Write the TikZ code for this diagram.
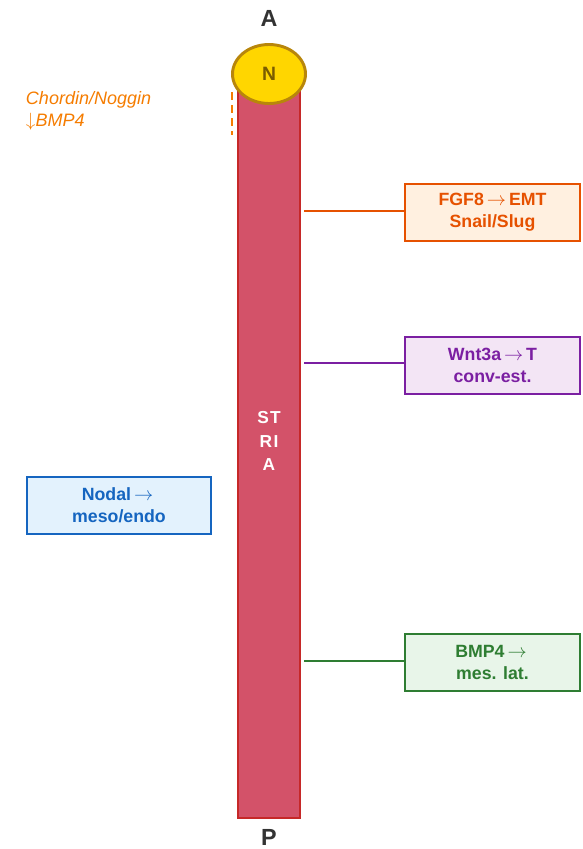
\documentclass[tikz,border=0pt]{standalone}
\usepackage{fontspec}
\setmainfont{Liberation Sans}
\usetikzlibrary{shapes.geometric}
\definecolor{streakfill}{HTML}{D35269}
\definecolor{streakedge}{HTML}{C62828}
\definecolor{nodefill}{HTML}{FFD600}
\definecolor{nodeedge}{HTML}{B8860B}
\definecolor{nodetext}{HTML}{7A5C00}
\definecolor{axistext}{HTML}{333333}
\definecolor{orgtext}{HTML}{F57C00}
\definecolor{fgfedge}{HTML}{E65100}
\definecolor{fgffill}{HTML}{FFF0E0}
\definecolor{wntedge}{HTML}{7B1FA2}
\definecolor{wntfill}{HTML}{F3E5F5}
\definecolor{nodaledge}{HTML}{1565C0}
\definecolor{nodalfill}{HTML}{E3F2FD}
\definecolor{bmpedge}{HTML}{2E7D32}
\definecolor{bmpfill}{HTML}{E8F5E9}
\newcommand{\rarr}{\,$\rightarrow$\,}
\newcommand{\darr}{$\downarrow$}
\begin{document}
\begin{tikzpicture}[x=0.75pt,y=-0.75pt,
  every node/.style={inner sep=0pt,outer sep=0pt},
  sigbox/.style={draw,line width=1.2pt,minimum width=175*0.75pt,minimum height=57*0.75pt,
    align=center,font=\fontsize{13.3}{16.5}\selectfont\bfseries},
  link/.style={line width=2pt},
  axislabel/.style={font=\fontsize{17.5}{18}\selectfont\bfseries,text=axistext,anchor=base}]
\useasboundingbox (0,0) rectangle (582,849);
% primitive streak
\node[draw=streakedge,fill=streakfill,line width=1.5pt,minimum width=62*0.75pt,minimum height=730*0.75pt] (streak) at (269,453) {};
\node[align=center,text=white,font=\fontsize{13}{17.5}\selectfont\bfseries] (stlabel) at (269,441) {S\kern1pt T\\R\kern1pt I\\A};
% node (organizer)
\node[ellipse,draw=nodeedge,fill=nodefill,line width=2.2pt,minimum width=73*0.75pt,minimum height=59*0.75pt,
  font=\fontsize{14.5}{15}\selectfont\bfseries,text=nodetext] (N) at (269,74) {N};
% axis labels
\node[axislabel] (A) at (269,27) {A};
\node[axislabel] (P) at (269,845) {P};
% BMP antagonists
\coordinate (dtop) at (232,92);
\coordinate (dbot) at (232,135);
\draw[orgtext,line width=1.8pt,dash pattern=on 6pt off 3.8pt] (dtop) -- (dbot);
\node[anchor=west,align=left,text=orgtext,font=\fontsize{13.5}{16.5}\selectfont\itshape] (chord) at (26,111) {Chordin/Noggin\\\darr BMP4};
% signalling boxes
\node[sigbox,draw=fgfedge,fill=fgffill,text=fgfedge] (fgf) at (492.5,212.5) {FGF8\rarr EMT\\Snail/Slug};
\node[sigbox,draw=wntedge,fill=wntfill,text=wntedge] (wnt) at (492.5,365.5) {Wnt3a\rarr T\\conv-est.};
\node[sigbox,draw=nodaledge,fill=nodalfill,text=nodaledge,minimum width=184*0.75pt] (nodal) at (119,505.5) {Nodal\rarr\\meso/endo};
\node[sigbox,draw=bmpedge,fill=bmpfill,text=bmpedge] (bmp) at (492.5,662.5) {BMP4\rarr\\mes. lat.};
% connectors
\coordinate (fgfs) at (304,211);
\coordinate (wnts) at (304,363);
\coordinate (bmps) at (304,661);
\draw[link,fgfedge] (fgfs) -- (fgfs -| fgf.west);
\draw[link,wntedge] (wnts) -- (wnts -| wnt.west);
\draw[link,bmpedge] (bmps) -- (bmps -| bmp.west);
\end{tikzpicture}
\end{document}
